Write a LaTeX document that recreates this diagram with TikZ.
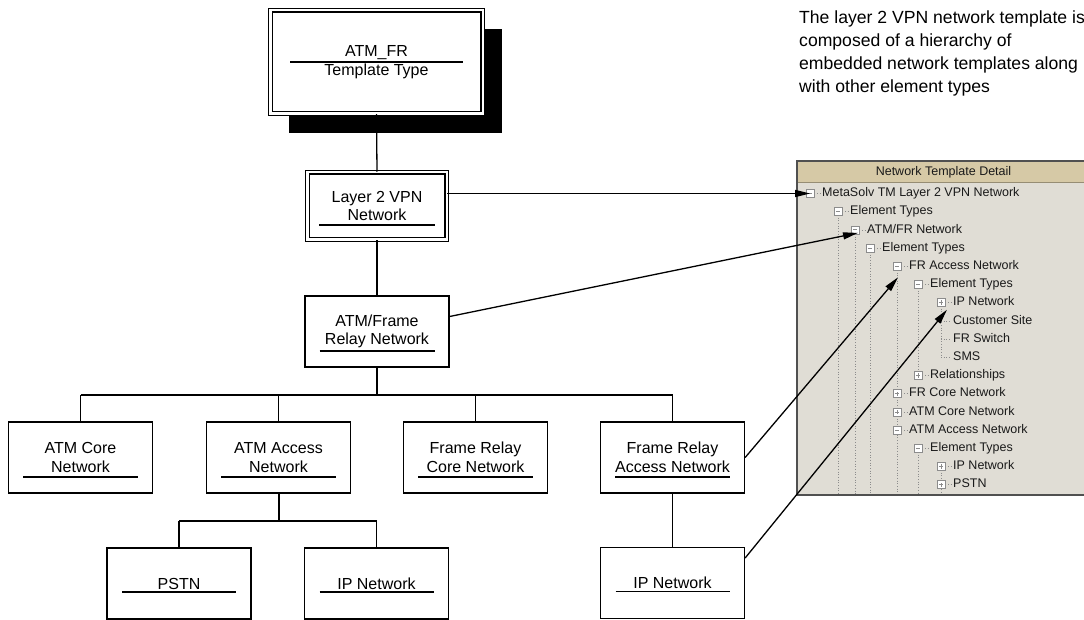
\documentclass[tikz,border=0pt]{standalone}
\usepackage{fontspec}
\setmainfont{Liberation Sans}
\usetikzlibrary{arrows.meta,shadows,calc}
\definecolor{panelbg}{HTML}{E0DDD5}
\definecolor{headbg}{HTML}{D6C9A6}
\definecolor{guidec}{HTML}{8C8C8C}
\definecolor{panelline}{HTML}{505050}
\definecolor{treetext}{HTML}{1A1A1A}
\begin{document}
\begin{tikzpicture}[x=1pt,y=-1pt,
  box/.style={draw, line width=1.3pt, fill=white, minimum width=144pt, minimum height=71pt,
    align=center, inner sep=0pt, font=\fontsize{16}{18.5}\selectfont},
  dbox/.style={box, double, double distance=2.4pt, line width=1.1pt},
  conn/.style={line width=1.3pt},
  trunk/.style={line width=2pt},
  arr/.style={line width=1.3pt, -{Triangle[length=15pt,width=7pt]}},
  uline/.style={line width=1.3pt},
  tog/.style={draw=guidec, fill=white, line width=0.6pt, minimum size=8pt, inner sep=0pt},
  tminus/.style={tog, path picture={\draw[line width=0.8pt]
      ([xshift=-2.2pt]path picture bounding box.center) -- ([xshift=2.2pt]path picture bounding box.center);}},
  tplus/.style={tog, path picture={\draw[line width=0.8pt]
      ([xshift=-2.2pt]path picture bounding box.center) -- ([xshift=2.2pt]path picture bounding box.center)
      ([yshift=-2.2pt]path picture bounding box.center) -- ([yshift=2.2pt]path picture bounding box.center);}},
  ttext/.style={anchor=west, inner sep=0pt, text=treetext, text height=9pt, text depth=2.6pt,
    font=\fontsize{12.5}{14}\selectfont},
  guide/.style={guidec, dotted, line width=0.7pt}
]
\useasboundingbox (0,0) rectangle (1084,620);

% ---------- explanatory note ----------
\node[anchor=north west, inner sep=0pt, align=left, font=\fontsize{17.6}{23}\selectfont]
  (note) at (799,10.5) {The layer 2 VPN network template is\\composed of a hierarchy of\\embedded network templates along\\with other element types};

% ---------- hierarchy boxes ----------
\node[dbox, minimum width=212.4pt, minimum height=103.4pt,
  drop shadow={fill=black, opacity=1, shadow xshift=19pt, shadow yshift=-19pt}]
  (tt) at (376.5,62) {ATM\_FR\\Template Type};
\node[dbox, minimum width=139.4pt, minimum height=67.4pt] (l2) at (377,206) {Layer 2 VPN\\Network};
\node[box] (af) at (377,331.5) {ATM/Frame\\Relay Network};
\node[box] (ac) at (80.5,457.5) {ATM Core\\Network};
\node[box] (aa) at (278.5,457.5) {ATM Access\\Network};
\node[box] (frc) at (475.5,457.5) {Frame Relay\\Core Network};
\node[box] (fra) at (672.5,457.5) {Frame Relay\\Access Network};
\node[box] (pstn) at (179,583.5) {PSTN};
\node[box] (ip1) at (376.5,583.5) {IP Network};
\node[box] (ip2) at (672.5,583) {IP Network};

% underlines
\draw[uline] ($(tt.center)+(-86.5,0)$) -- ($(tt.center)+(86.5,0)$);
\draw[uline] ($(l2.center)+(-58,19)$) -- ($(l2.center)+(58,19)$);
\foreach \n in {af,ac,aa,frc,fra}
  \draw[uline] ($(\n.center)+(-57.5,19.5)$) -- ($(\n.center)+(57.5,19.5)$);
\foreach \n in {pstn,ip1,ip2}
  \draw[uline] ($(\n.center)+(-57,8.5)$) -- ($(\n.center)+(57,8.5)$);

% connectors
\coordinate (b1) at (377,395);
\coordinate (b2) at (278.5,521);
\draw[conn] (tt.south) -- (l2.north);
\draw[conn] (l2.south) -- (af.north);
\draw[trunk] (af.south) -- (af.south |- b1);
\draw[trunk] (ac.north |- b1) -- (fra.north |- b1);
\foreach \n in {ac,aa,frc,fra}
  \draw[conn] (\n.north |- b1) -- (\n.north);
\draw[trunk] (aa.south) -- (aa.south |- b2);
\draw[trunk] (pstn.north |- b2) -- (ip1.north |- b2);
\foreach \n in {pstn,ip1}
  \draw[conn] (\n.north |- b2) -- (\n.north);
\draw[conn] (fra.south) -- (ip2.north);

% ---------- tree panel ----------
\fill[panelbg] (797,161) rectangle (1084,495);
\fill[headbg] (798,162) rectangle (1084,182);
\draw[headbg!70!black, line width=0.6pt] (798,182) -- (1084,182);
\node[inner sep=0pt, font=\fontsize{12.5}{14}\selectfont, text=treetext] (hdr) at (943.5,172.5) {Network Template Detail};
\draw[panelline, line width=1.1pt] (1084,161) -- (797,161) -- (797,495) -- (1084,495);

% guides
\draw[guide] (838,215) -- (838,494);
\draw[guide] (855,234) -- (855,494);
\draw[guide] (870,252) -- (870,494);
\draw[guide] (897,270) -- (897,494);
\draw[guide] (918,288) -- (918,375.5) (918,452) -- (918,494);
\draw[guide] (941,306) -- (941,357.3) (941,470) -- (941,494);
\draw[guide] (941,320.9) -- (951,320.9) (941,339.1) -- (951,339.1) (941,357.3) -- (951,357.3);

% toggles and labels
\node[tminus] (g0) at (810,193.5) {};
\node[tminus] (g1) at (838,211.7) {};
\node[tminus] (g2) at (855,229.9) {};
\node[tminus] (g3) at (870,248.1) {};
\node[tminus] (g4) at (897,266.3) {};
\node[tminus] (g5) at (918,284.5) {};
\node[tplus]  (g6) at (941,302.7) {};
\node[tplus]  (g10) at (918,375.5) {};
\node[tplus]  (g11) at (897,393.7) {};
\node[tplus]  (g12) at (897,411.9) {};
\node[tminus] (g13) at (897,430.1) {};
\node[tminus] (g14) at (918,448.3) {};
\node[tplus]  (g15) at (941,466.5) {};
\node[tplus]  (g16) at (941,484.7) {};
\foreach \g in {g0,g1,g2,g3,g4,g5,g6,g10,g11,g12,g13,g14,g15,g16}
  \draw[guide] (\g.east) -- ++(6,0);

\node[ttext] (t0) at (822,193.5) {MetaSolv TM Layer 2 VPN Network};
\node[ttext] (t1) at (850,211.7) {Element Types};
\node[ttext] (t2) at (867,229.9) {ATM/FR Network};
\node[ttext] (t3) at (882,248.1) {Element Types};
\node[ttext] (t4) at (909,266.3) {FR Access Network};
\node[ttext] (t5) at (930,284.5) {Element Types};
\node[ttext] (t6) at (953,302.7) {IP Network};
\node[ttext] (t7) at (953,320.9) {Customer Site};
\node[ttext] (t8) at (953,339.1) {FR Switch};
\node[ttext] (t9) at (953,357.3) {SMS};
\node[ttext] (t10) at (930,375.5) {Relationships};
\node[ttext] (t11) at (909,393.7) {FR Core Network};
\node[ttext] (t12) at (909,411.9) {ATM Core Network};
\node[ttext] (t13) at (909,430.1) {ATM Access Network};
\node[ttext] (t14) at (930,448.3) {Element Types};
\node[ttext] (t15) at (953,466.5) {IP Network};
\node[ttext] (t16) at (953,484.7) {PSTN};

% ---------- arrows into the tree ----------
\draw[arr] (l2.east |- g0) -- (g0.center);
\draw[arr] ([yshift=15pt]af.east) -- ($(g2.center)+(3,3)$);
\draw[arr] (fra.east) -- ($(g4.center)+(1,11)$);
\draw[arr] ([yshift=25pt]ip2.east) -- ($(g6.center)+(6,7)$);
\end{tikzpicture}
\end{document}
